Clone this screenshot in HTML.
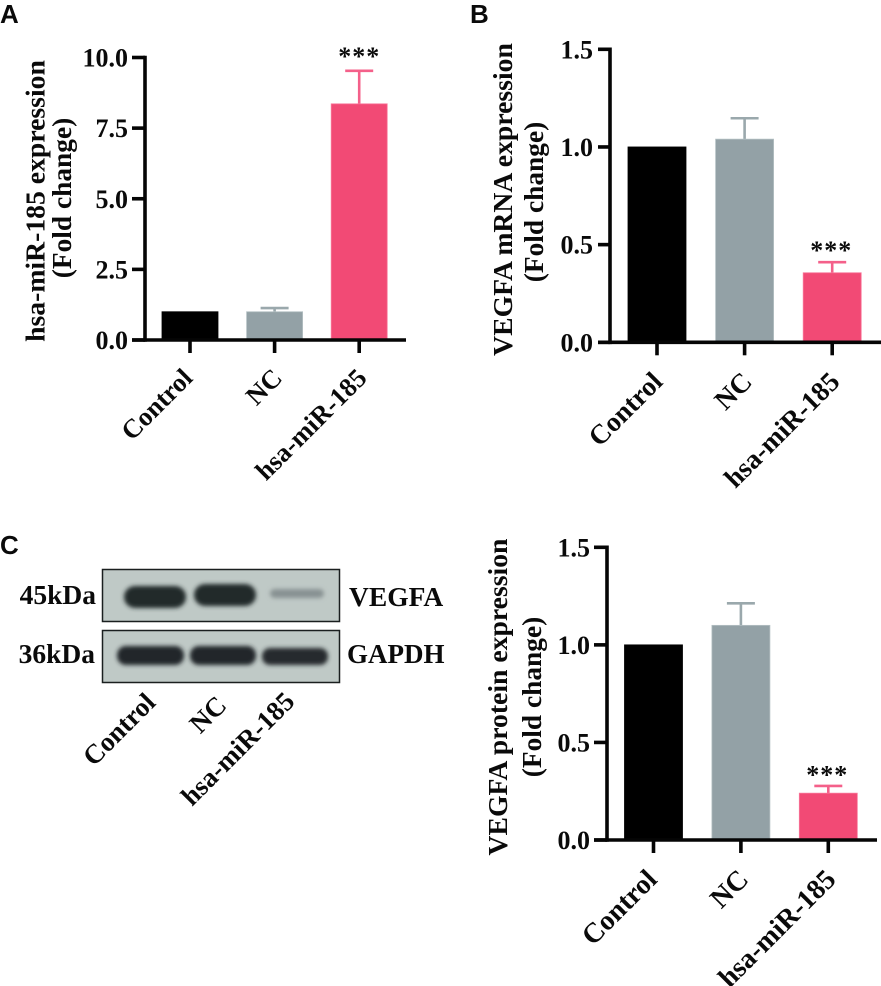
<!DOCTYPE html>
<html lang="en">
<head>
<meta charset="utf-8">
<title>hsa-miR-185 and VEGFA expression</title>
<style>
html,body{margin:0;padding:0;background:#fff;width:881px;height:986px;overflow:hidden}
svg{display:block}
text{font-family:"Liberation Serif",serif;font-weight:bold;fill:#0a0a0a}
.panel{font-family:"Liberation Sans",sans-serif;font-size:26px;font-weight:bold}
</style>
</head>
<body>
<svg id="fig" xmlns="http://www.w3.org/2000/svg" width="881" height="986" viewBox="0 0 881 986">
  <defs>
    <filter id="blur3" x="-30%" y="-60%" width="160%" height="220%"><feGaussianBlur stdDeviation="2"/></filter>
    <filter id="blur2" x="-30%" y="-60%" width="160%" height="220%"><feGaussianBlur stdDeviation="2"/></filter>
  </defs>
  <text class="panel" x="0" y="23">A</text>
  <text class="panel" x="470" y="23">B</text>
  <text class="panel" x="0" y="554">C</text>

  <g>
    <rect x="102.5" y="569.5" width="237" height="52" fill="#bfc9c6" stroke="#1a1f1f" stroke-width="1.5"/>
    <rect x="102.5" y="630.5" width="237" height="52" fill="#bfc9c6" stroke="#1a1f1f" stroke-width="1.5"/>
    <g filter="url(#blur3)">
      <rect x="124" y="586" width="62" height="22" rx="11" fill="#24292c"/>
      <rect x="194" y="584" width="62" height="22" rx="11" fill="#24292c"/>
    </g>
    <rect x="270" y="589" width="54" height="9" rx="4.5" fill="#889293" filter="url(#blur2)"/>
    <g filter="url(#blur3)">
      <rect x="117" y="646" width="67" height="19" rx="9" fill="#23282b"/>
      <rect x="190" y="646" width="66" height="19" rx="9" fill="#23282b"/>
      <rect x="262" y="648" width="66" height="17" rx="8" fill="#272c2f"/>
    </g>
    <text x="96" y="604" font-size="27.5" text-anchor="end">45kDa</text>
    <text x="95" y="663" font-size="27.5" text-anchor="end">36kDa</text>
    <text x="349" y="606" font-size="27.5">VEGFA</text>
    <text x="347" y="663" font-size="27">GAPDH</text>
    <text transform="translate(157,704) rotate(-45)" font-size="27" text-anchor="end">Control</text>
    <text transform="translate(228,707) rotate(-45)" font-size="27" text-anchor="end">NC</text>
    <text transform="translate(296,703) rotate(-45)" font-size="27" text-anchor="end">hsa-miR-185</text>
  </g>
</svg>
<script>
const categories = ["Control", "NC", "hsa-miR-185"];
const barColors = ["#000000", "#93a1a6", "#f24a75"];
const edgeColors = ["#000000", "#b4c0c3", "#f8799b"];
const errColors = ["#000000", "#9aa8ac", "#f4608a"];

const tickValuesA = [0, 2.5, 5, 7.5, 10];
const tickLabelsA = ["0.0", "2.5", "5.0", "7.5", "10.0"];
const meansA = [1.0, 1.0, 8.36];
const errorsA = [0, 0.13, 1.17];

const tickValuesB = [0, 0.5, 1, 1.5];
const tickLabelsB = ["0.0", "0.5", "1.0", "1.5"];
const meansB = [1.0, 1.04, 0.356];
const errorsB = [0, 0.107, 0.054];

const tickValuesC = [0, 0.5, 1, 1.5];
const tickLabelsC = ["0.0", "0.5", "1.0", "1.5"];
const meansC = [1.0, 1.10, 0.24];
const errorsC = [0, 0.113, 0.037];

const NS = "http://www.w3.org/2000/svg";
const fig = document.getElementById("fig");

function mk(parent, tag, attrs, txt) {
  const el = document.createElementNS(NS, tag);
  for (const k in attrs) el.setAttribute(k, attrs[k]);
  if (txt !== undefined) el.textContent = txt;
  parent.appendChild(el);
  return el;
}

function drawChart(c) {
  const g = mk(fig, "g", {});
  
  
  const yScale = v => c.y0 - (v / c.yMax) * (c.y0 - c.yTop);
  const barX = i => c.xFirst + i * c.step;

  categories.forEach((cat, i) => {
    const x = barX(i);
    const top = yScale(c.means[i]);
    if (c.errors[i] > 0) {
      const et = yScale(c.means[i] + c.errors[i]);
      const stem = mk(g, "line", {x1: x, x2: x, y1: top, y2: et, stroke: errColors[i], "stroke-width": 2.6});
      
      
      const cap = mk(g, "line", {x1: x - 14, x2: x + 14, y1: et, y2: et, stroke: errColors[i], "stroke-width": 2.6});
      
      
    }
    const bar = mk(g, "rect", {x: x - c.barW / 2, y: top, width: c.barW, height: c.y0 - top, fill: barColors[i], stroke: edgeColors[i], "stroke-width": 0.8});
    
    

    const tick = mk(g, "line", {x1: x, x2: x, y1: c.y0, y2: c.y0 + 13, stroke: "#050505", "stroke-width": 3.6});
    
    

    const nudge = i === 0 ? c.firstLabelDx : 0;
    const lab = mk(g, "text", {transform: "translate(" + (x + 9 + nudge) + "," + (c.y0 + c.xLabelGap) + ") rotate(-45)", "font-size": c.xFont, "text-anchor": "end"}, cat);
    
    
  });

  const xAxis = mk(g, "line", {x1: c.xAxisL, x2: c.xAxisR, y1: c.y0, y2: c.y0, stroke: "#050505", "stroke-width": 3.6});
  
  
  const yAxis = mk(g, "line", {x1: c.axisX, x2: c.axisX, y1: c.yTop - 1.8, y2: c.y0 + 1.8, stroke: "#050505", "stroke-width": 3.6});
  
  

  c.ticks.forEach((t, i) => {
    const y = yScale(t);
    const tk = mk(g, "line", {x1: c.xAxisL, x2: c.axisX, y1: y, y2: y, stroke: "#050505", "stroke-width": 3.6});
    
    
    const tl = mk(g, "text", {x: c.labelX, y: y + 9, "font-size": 26, "text-anchor": "end"}, c.tickLabels[i]);
    
    
  });

  const t1 = mk(g, "text", {transform: "translate(" + c.title1X + "," + c.titleY + ") rotate(-90)", "font-size": 27.7, "text-anchor": "middle"}, c.title);
  
  
  const t2 = mk(g, "text", {transform: "translate(" + c.title2X + "," + c.title2Y + ") rotate(-90)", "font-size": 27.4, "text-anchor": "middle"}, "(Fold change)");
  
  

  const sigTop = yScale(c.means[2] + c.errors[2]);
  const star = mk(g, "text", {x: barX(2) + c.starDx, y: sigTop - c.starGap + 11, "font-size": 26, "letter-spacing": "1", "text-anchor": "middle"}, "***");
  
  
}

drawChart({name: "chart-a", means: meansA, errors: errorsA, ticks: tickValuesA, tickLabels: tickLabelsA, yMax: 10,
  y0: 340, yTop: 57.5, axisX: 145, xAxisL: 132, xAxisR: 406, xFirst: 190, step: 84.6, barW: 56, labelX: 128,
  title: "hsa-miR-185 expression", title1X: 44.5, titleY: 201, title2X: 71, title2Y: 198, starDx: 0, starGap: 17, xFont: 26.5, firstLabelDx: -5, xLabelGap: 39.5});
drawChart({name: "chart-b", means: meansB, errors: errorsB, ticks: tickValuesB, tickLabels: tickLabelsB, yMax: 1.5,
  y0: 342.3, yTop: 49.3, axisX: 610, xAxisL: 598, xAxisR: 881, xFirst: 657, step: 87.6, barW: 58, labelX: 593,
  title: "VEGFA mRNA expression", title1X: 512, titleY: 199.5, title2X: 543, title2Y: 202, starDx: -1, starGap: 14, xFont: 27.5, firstLabelDx: -2, xLabelGap: 41});
drawChart({name: "chart-c", means: meansC, errors: errorsC, ticks: tickValuesC, tickLabels: tickLabelsC, yMax: 1.5,
  y0: 840, yTop: 547.3, axisX: 607, xAxisL: 594, xAxisR: 877, xFirst: 653.5, step: 87.4, barW: 58, labelX: 590,
  title: "VEGFA protein expression", title1X: 507, titleY: 697, title2X: 541, title2Y: 697, starDx: -1, starGap: 13.5, xFont: 28, firstLabelDx: -4, xLabelGap: 41});
</script>
</body>
</html>
